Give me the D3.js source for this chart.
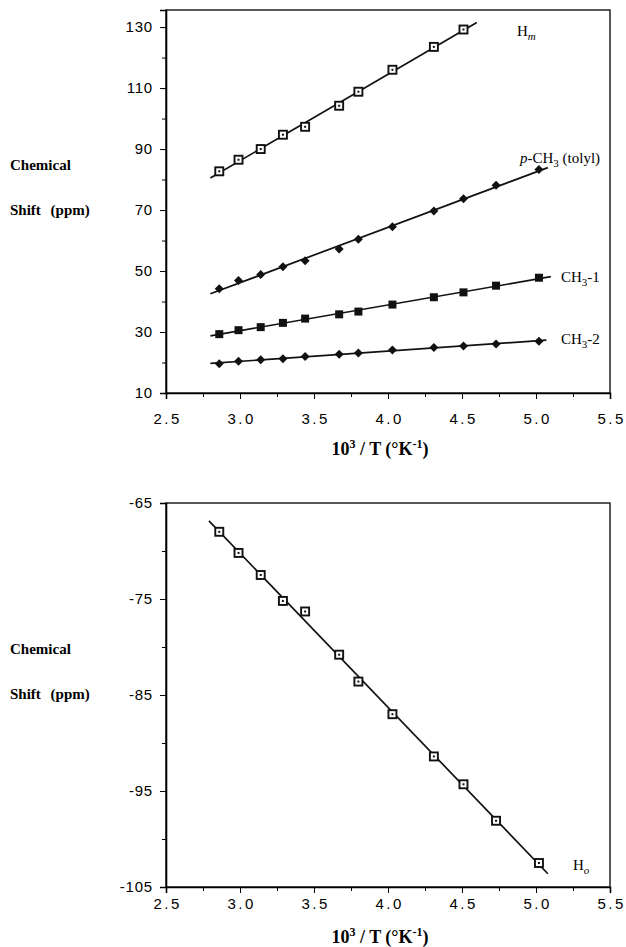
<!DOCTYPE html>
<html>
<head>
<meta charset="utf-8">
<script src="https://cdn.jsdelivr.net/npm/d3@7"></script>
<style>
  body { margin: 0; background: #fff; }
  .tick text { font-family: 'Liberation Sans', Arial, sans-serif; font-size: 15px; }
  .serif { font-family: 'Liberation Serif', 'Times New Roman', serif; }
</style>
</head>
<body>
<div id="chart"></div>
<script>
// 10^3 / T values for each temperature
const invTemp = [2.86, 2.99, 3.14, 3.29, 3.44, 3.67, 3.80, 4.03, 4.31, 4.51, 4.73, 5.02];

// top panel series (ppm)
const hMeta = [82.7, 86.5, 90.0, 94.7, 97.3, 104.2, 108.8, 116.0, 123.5, 129.2];
const tolylCH3 = [44.2, 46.9, 48.9, 51.4, 53.4, 57.2, 60.4, 64.5, 69.7, 73.7, 78.1, 83.3];
const ch3One = [29.3, 30.6, 31.6, 33.0, 34.4, 35.8, 36.7, 39.0, 41.4, 43.0, 45.2, 47.8];
const ch3Two = [19.6, 20.4, 20.9, 21.2, 22.0, 22.7, 23.1, 24.1, 24.9, 25.4, 26.1, 27.0];

// bottom panel series (ppm)
const hOrtho = [-68.0, -70.2, -72.5, -75.2, -76.3, -80.8, -83.6, -87.0, -91.4, -94.3, -98.1, -102.5];

// fitted line extents (x range)
const hMetaFit = [2.80, 4.60];
const tolylFit = [2.80, 5.08];
const ch3OneFit = [2.80, 5.10];
const ch3TwoFit = [2.80, 5.07];
const hOrthoFit = [2.79, 5.08];

const xTicks = [2.5, 3.0, 3.5, 4.0, 4.5, 5.0, 5.5];
const topYTicks = [10, 30, 50, 70, 90, 110, 130];
const botYTicks = [-65, -75, -85, -95, -105];

const width = 626, height = 947;
const svg = d3.select('#chart').append('svg')
  .attr('width', width).attr('height', height);

const left = 166, right = 610;

// least squares line through the points
function fitLine(xs, ys) {
  const n = ys.length;
  const xv = xs.slice(0, n);
  const mx = d3.mean(xv), my = d3.mean(ys);
  let sxy = 0, sxx = 0;
  for (let i = 0; i < n; i++) {
    sxy += (xv[i] - mx) * (ys[i] - my);
    sxx += (xv[i] - mx) * (xv[i] - mx);
  }
  const b = sxy / sxx;
  return x => my + b * (x - mx);
}

function panel(opt) {
  const { top, bottom, yDomain, yTicks, minorStep, series } = opt;
  const g = svg.append('g');
  const x = d3.scaleLinear().domain([2.5, 5.5]).range([left, right]);
  const y = d3.scaleLinear().domain(yDomain).range([bottom, top]);

  // frame
  g.append('rect')
    .attr('x', left).attr('y', top)
    .attr('width', right - left).attr('height', bottom - top)
    .attr('fill', 'none').attr('stroke', '#111').attr('stroke-width', 1.4);

  // minor ticks
  const xMinor = d3.range(2.5, 5.51, 0.25);
  g.append('g').attr('transform', `translate(0,${bottom})`)
    .call(d3.axisBottom(x).tickValues(xMinor).tickSize(4).tickFormat(''))
    .call(a => a.select('.domain').remove());
  const yMin = Math.min(...yTicks), yMax = Math.max(...yTicks);
  const yMinor = d3.range(yMin, yMax + 0.01, minorStep);
  g.append('g').attr('transform', `translate(${left},0)`)
    .call(d3.axisLeft(y).tickValues(yMinor).tickSize(4).tickFormat(''))
    .call(a => a.select('.domain').remove());

  // major axes
  g.append('g').attr('transform', `translate(0,${bottom})`)
    .call(d3.axisBottom(x).tickValues(xTicks).tickSize(6).tickPadding(opt.xPad).tickFormat(d3.format('.1f')))
    .call(a => a.select('.domain').attr('stroke-width', 1.6))
    .call(a => a.selectAll('.tick text').style('letter-spacing', '2.5px').attr('dx', '1.2px'));
  g.append('g').attr('transform', `translate(${left},0)`)
    .call(d3.axisLeft(y).tickValues(yTicks).tickSize(6).tickPadding(7).tickFormat(d => d))
    .call(a => a.select('.domain').attr('stroke-width', 1.6))
    .call(a => a.selectAll('.tick text').style('letter-spacing', '0.8px'));

  series.forEach(s => {
    const f = fitLine(invTemp, s.values);
    g.append('line')
      .attr('x1', x(s.fit[0])).attr('y1', y(f(s.fit[0])))
      .attr('x2', x(s.fit[1])).attr('y2', y(f(s.fit[1])))
      .attr('stroke', '#111').attr('stroke-width', 1.7);

    const pts = s.values.map((v, i) => [invTemp[i], v]);
    const m = g.append('g').selectAll('g').data(pts).join('g')
      .attr('transform', d => `translate(${x(d[0])},${y(d[1])})`);
    if (s.marker === 'open') {
      m.append('rect').attr('x', -4).attr('y', -4).attr('width', 8).attr('height', 8)
        .attr('fill', '#fff').attr('stroke', '#111').attr('stroke-width', 1.9);
      m.append('rect').attr('x', -1).attr('y', -1).attr('width', 2).attr('height', 2).attr('fill', '#111');
    } else if (s.marker === 'square') {
      m.append('rect').attr('x', -4).attr('y', -4).attr('width', 8).attr('height', 8).attr('fill', '#111');
    } else {
      m.append('path').attr('d', 'M0,-4.5L4.5,0L0,4.5L-4.5,0Z').attr('fill', '#111');
    }
  });

  // axis titles
  const xt = g.append('text').attr('class', 'serif')
    .attr('x', 380).attr('y', opt.xTitleY)
    .attr('text-anchor', 'middle').attr('font-weight', 'bold').attr('font-size', 18);
  xt.append('tspan').text('10');
  xt.append('tspan').attr('dy', -7).attr('font-size', 12).text('3');
  xt.append('tspan').attr('dy', 7).text(' / T (°K');
  xt.append('tspan').attr('dy', -7).attr('font-size', 12).text('-1');
  xt.append('tspan').attr('dy', 7).text(')');

  g.append('text').attr('class', 'serif').attr('x', 10).attr('y', opt.yTitleY)
    .attr('font-weight', 'bold').attr('font-size', 15).text('Chemical');
  g.append('text').attr('class', 'serif').attr('x', 10).attr('y', opt.yTitleY + 45)
    .attr('font-weight', 'bold').attr('font-size', 15).style('word-spacing', '6px').text('Shift (ppm)');
  return { x, y, g };
}

function subLabel(g, px, py, main, sub, italicSub, rest) {
  const t = g.append('text').attr('class', 'serif').attr('x', px).attr('y', py).attr('font-size', 15);
  t.append('tspan').text(main);
  const s = t.append('tspan').attr('dy', 4).attr('font-size', 11).text(sub);
  if (italicSub) s.attr('font-style', 'italic');
  if (rest) t.append('tspan').attr('dy', -4).text(rest);
  return t;
}

const p1 = panel({
  top: 10, bottom: 393, yDomain: [10, 135.6], yTicks: topYTicks, minorStep: 10,
  xPad: 14, xTitleY: 455, yTitleY: 170,
  series: [
    { values: hMeta, fit: hMetaFit, marker: 'open' },
    { values: tolylCH3, fit: tolylFit, marker: 'diamond' },
    { values: ch3One, fit: ch3OneFit, marker: 'square' },
    { values: ch3Two, fit: ch3TwoFit, marker: 'diamond' }
  ]
});
subLabel(p1.g, 517, 36, 'H', 'm', true);
const tol = p1.g.append('text').attr('class', 'serif').attr('x', 520).attr('y', 163).attr('font-size', 15);
tol.append('tspan').attr('font-style', 'italic').text('p');
tol.append('tspan').text('-CH');
tol.append('tspan').attr('dy', 4).attr('font-size', 11).text('3');
tol.append('tspan').attr('dy', -4).text(' (tolyl)');
subLabel(p1.g, 561, 282, 'CH', '3', false, '-1');
subLabel(p1.g, 561, 344, 'CH', '3', false, '-2');

const p2 = panel({
  top: 503, bottom: 887, yDomain: [-105, -65], yTicks: botYTicks, minorStep: 5,
  xPad: 5, xTitleY: 943, yTitleY: 654,
  series: [
    { values: hOrtho, fit: hOrthoFit, marker: 'open' }
  ]
});
subLabel(p2.g, 573, 870, 'H', 'o', true);
</script>
</body>
</html>
